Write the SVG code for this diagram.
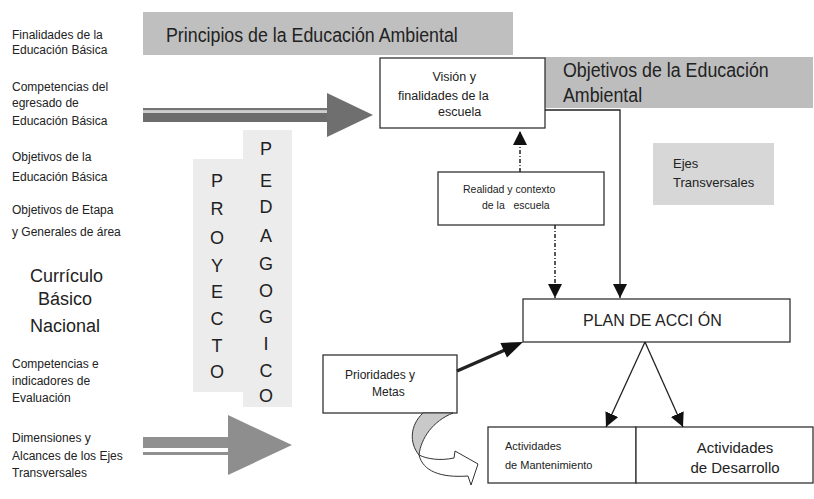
<svg xmlns="http://www.w3.org/2000/svg" width="814" height="499" viewBox="0 0 814 499">
<style>
text{font-family:"Liberation Sans",Arial,sans-serif;fill:#222}
.l{font-size:13.5px}
.big{font-size:18px}
.ttl{font-size:20px}
.box{fill:#fff;stroke:#333;stroke-width:1.3}
.v{font-size:18px;text-anchor:middle}
.con{stroke:#222;fill:none}
.dd{stroke-dasharray:4 2 1 2;stroke-width:1.5}
</style>
<defs>
<marker id="ah" markerUnits="userSpaceOnUse" markerWidth="15" markerHeight="15" refX="14" refY="7" orient="auto">
<path d="M0,0 L14,7 L0,14 Z" fill="#111"/>
</marker>
</defs>
<rect width="814" height="499" fill="#fff"/>

<g id="left-column">
<g transform="translate(12,0) scale(0.89,1)">
<text class="l" x="0" y="39">Finalidades de la</text>
<text class="l" x="0" y="54">Educación Básica</text>
<text class="l" x="0" y="91">Competencias del</text>
<text class="l" x="0" y="107">egresado de</text>
<text class="l" x="0" y="125">Educación Básica</text>
<text class="l" x="0" y="161">Objetivos de la</text>
<text class="l" x="0" y="181">Educación Básica</text>
<text class="l" x="0" y="214">Objetivos de Etapa</text>
<text class="l" x="0" y="236">y Generales de área</text>
<text class="l" x="0" y="368">Competencias e</text>
<text class="l" x="0" y="385">indicadores de</text>
<text class="l" x="0" y="402">Evaluación</text>
<text class="l" x="0" y="442">Dimensiones y</text>
<text class="l" x="0" y="460">Alcances de los Ejes</text>
<text class="l" x="0" y="477">Transversales</text>
</g>
<text class="big" x="30" y="282">Currículo</text>
<text class="big" x="38" y="305">Básico</text>
<text class="big" x="30" y="332">Nacional</text>
</g>

<g id="principios">
<rect x="143" y="12" width="370" height="43" fill="#bfbfbf"/>
<text class="ttl" transform="translate(166,0) scale(0.89,1)" x="0" y="42">Principios de la Educación Ambiental</text>
</g>

<g id="objetivos">
<rect x="545" y="57" width="268" height="51" fill="#bdbdbd"/>
<g transform="translate(563,0) scale(0.89,1)">
<text class="ttl" x="0" y="77">Objetivos de la Educación</text>
<text class="ttl" x="0" y="102">Ambiental</text>
</g>
</g>

<g id="ejes">
<rect x="653" y="143" width="121" height="62" fill="#d7d7d7"/>
<text x="673" y="168" font-size="13">Ejes</text>
<text x="673" y="187" font-size="13">Transversales</text>
</g>

<g id="proyecto">
<rect x="193" y="159" width="50" height="233" fill="#ececec"/>
<text class="v" x="217" y="187">P</text>
<text class="v" x="217" y="215">R</text>
<text class="v" x="217" y="244">O</text>
<text class="v" x="217" y="272">Y</text>
<text class="v" x="217" y="298">E</text>
<text class="v" x="217" y="325">C</text>
<text class="v" x="217" y="352">T</text>
<text class="v" x="217" y="378">O</text>
</g>

<g id="pedagogico">
<rect x="243" y="130" width="49" height="277" fill="#ececec"/>
<text class="v" x="266" y="155">P</text>
<text class="v" x="266" y="187">E</text>
<text class="v" x="266" y="213" font-size="14">D</text>
<text class="v" x="266" y="242">A</text>
<text class="v" x="266" y="270">G</text>
<text class="v" x="266" y="297">O</text>
<text class="v" x="266" y="323">G</text>
<text class="v" x="266" y="350">I</text>
<text class="v" x="266" y="377">C</text>
<text class="v" x="266" y="402">O</text>
</g>

<g id="vision">
<rect class="box" x="380" y="58" width="165" height="70"/>
<g transform="translate(398,0) scale(0.93,1)">
<text x="37" y="81" font-size="13.5">Visión y</text>
<text x="0" y="100" font-size="13.5">finalidades de la</text>
<text x="43" y="116" font-size="13.5">escuela</text>
</g>
</g>

<g id="realidad">
<rect class="box" x="438" y="172" width="166" height="53"/>
<text x="463" y="193" font-size="10.5">Realidad y contexto</text>
<text x="482" y="209" font-size="10.5" xml:space="preserve" style="white-space:pre">de la   escuela</text>
</g>

<g id="plan">
<rect class="box" x="523" y="299" width="267" height="43"/>
<text x="583" y="326" font-size="16">PLAN DE ACCI ÓN</text>
</g>

<g id="prioridades">
<rect class="box" x="323" y="355" width="134" height="58"/>
<text x="345" y="379" font-size="12">Prioridades y</text>
<text x="372" y="396" font-size="12">Metas</text>
</g>

<g id="mantenimiento">
<rect class="box" x="488" y="427" width="148" height="56"/>
<text x="505" y="450" font-size="11">Actividades</text>
<text x="505" y="469" font-size="11">de Mantenimiento</text>
</g>

<g id="desarrollo">
<rect class="box" x="636" y="427" width="177" height="56"/>
<text x="735" y="453" font-size="15" text-anchor="middle">Actividades</text>
<text x="735" y="473" font-size="15" text-anchor="middle">de Desarrollo</text>
</g>

<g id="connectors">
<rect x="143" y="108" width="185" height="2.5" fill="#747474"/>
<rect x="143" y="110.5" width="185" height="2.5" fill="#cfcfcf"/>
<rect x="143" y="113" width="185" height="9" fill="#6c6c6c"/>
<polygon points="327,93 373,115 327,137" fill="#6f6f6f"/>
<rect x="143" y="437" width="86" height="11" fill="#909090"/>
<rect x="143" y="452" width="86" height="3" fill="#909090"/>
<polygon points="228,415 292,445 228,475" fill="#8e8e8e"/>
<line class="con dd" x1="520" y1="172" x2="520" y2="131" marker-end="url(#ah)"/>
<line class="con dd" x1="555" y1="225" x2="555" y2="298" marker-end="url(#ah)"/>
<path class="con" d="M545,110 H620 V298" stroke-width="1.3" marker-end="url(#ah)"/>
<line class="con" x1="457" y1="371" x2="505" y2="350" stroke-width="3.5"/>
<polygon points="523,342 507,357.5 500.4,342.9" fill="#111"/>
<line class="con" x1="645" y1="342" x2="606" y2="427" stroke-width="1.3" marker-end="url(#ah)"/>
<line class="con" x1="645" y1="342" x2="683" y2="427" stroke-width="1.3" marker-end="url(#ah)"/>
<path d="M423,413 C410,425 409,443 419,455 C421,438 433,421 453,413 Z" fill="#c9c9c9" stroke="#333" stroke-width="1"/>
<path d="M419,455 C423,471 440,478 468,476 L471,485 L478,464 L455,451 L454,458 C440,461 427,459 419,455 Z" fill="#fff" stroke="#333" stroke-width="1"/>
</g>
</svg>
